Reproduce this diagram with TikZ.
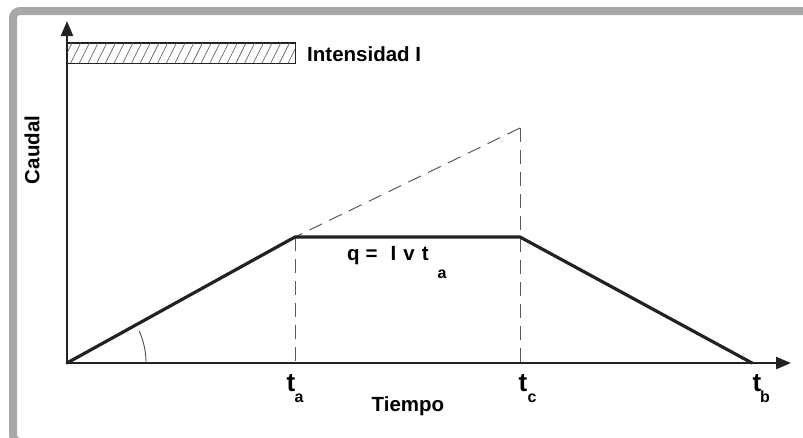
\documentclass[tikz,border=0pt]{standalone}
\usepackage{fontspec}
\setmainfont{Liberation Sans}
\usetikzlibrary{arrows.meta}
\definecolor{framegray}{HTML}{A8A8A8}
\definecolor{ink}{HTML}{222222}
\begin{document}
\begin{tikzpicture}[x=1pt,y=-1pt,
  axisline/.style={line width=2.4pt, draw=ink, -{Triangle[length=15pt,width=12pt]}},
  curveline/.style={line width=3.2pt, draw=ink, line join=round, line cap=round},
  guide/.style={line width=1pt, draw=black!65, dash pattern=on 14pt off 8pt},
  lbl/.style={font=\fontsize{20.5}{24}\selectfont\bfseries, inner sep=0pt, text=black},
  tlbl/.style={font=\fontsize{26}{28}\selectfont\bfseries, inner sep=0pt, text=black},
  sublbl/.style={font=\fontsize{16}{18}\selectfont\bfseries, inner sep=0pt, text=black},
  hatch/.style={line width=0.7pt, draw=black!60},
  anglearc/.style={line width=0.9pt, draw=black!70}]
\useasboundingbox (0,0) rectangle (803,437);
% frame
\begin{scope}
\clip (0,0) rectangle (803,437);
\draw[line width=8pt, draw=framegray, rounded corners=7pt] (13,11) rectangle (815,442);
\end{scope}
% key points
\coordinate (O) at (67,363);
\coordinate (Ytop) at (67,21);
\coordinate (Xend) at (791,363);
\coordinate (A) at (295,237);
\coordinate (C) at (520,237);
\coordinate (B) at (752,363);
\coordinate (D) at (520,128);
\coordinate (Ta) at (295,363);
\coordinate (Tc) at (520,363);
% intensity bar
\node (bar) [draw=ink, line width=1pt, minimum width=228pt, minimum height=20pt, inner sep=0pt] at (181,53) {};
\begin{scope}
\clip (bar.south west) rectangle (bar.north east);
\foreach \i in {0,...,27} {
  \draw[hatch] ({62+\i*8.7},63) -- ({72+\i*8.7},43);
}
\end{scope}
\draw[ink, line width=1pt] (bar.south west) rectangle (bar.north east);
\node (intens) [lbl, anchor=base west] at (307,61) {Intensidad I};
% guides
\draw[guide, dash phase=6pt] (A) -- (D);
\draw[guide] (A) -- (Ta);
\draw[guide] (D) -- (Tc);
% axes
\draw[axisline] (O) -- (Ytop);
\draw[axisline] (O) -- (Xend);
% hydrograph
\draw[curveline] (O) -- (A) -- (C) -- (B);
% angle arc
\draw[anglearc] plot[domain=0:24, samples=30] ({67+79*cos(\x)},{363-79*sin(\x)});
% labels
\node (caudal) [lbl, rotate=90] at (32,150) {Caudal};
\node (tiempo) [lbl, anchor=base] at (408,411) {Tiempo};
\node (ta) [tlbl, anchor=base] at (291,391) {t};
\node (tasub) [sublbl, anchor=base] at (299,402) {a};
\node (tc) [tlbl, anchor=base] at (523,391) {t};
\node (tcsub) [sublbl, anchor=base] at (532,402) {c};
\node (tb) [tlbl, anchor=base] at (757,391) {t};
\node (tbsub) [sublbl, anchor=base] at (765,402) {b};
\node (qeq) [lbl, anchor=base west] at (347,260) {q\hspace{6pt}=\hspace{13pt}I\hspace{7pt}v\hspace{7pt}t};
\node (qsub) [sublbl, anchor=base] at (442,278) {a};
\end{tikzpicture}
\end{document}
